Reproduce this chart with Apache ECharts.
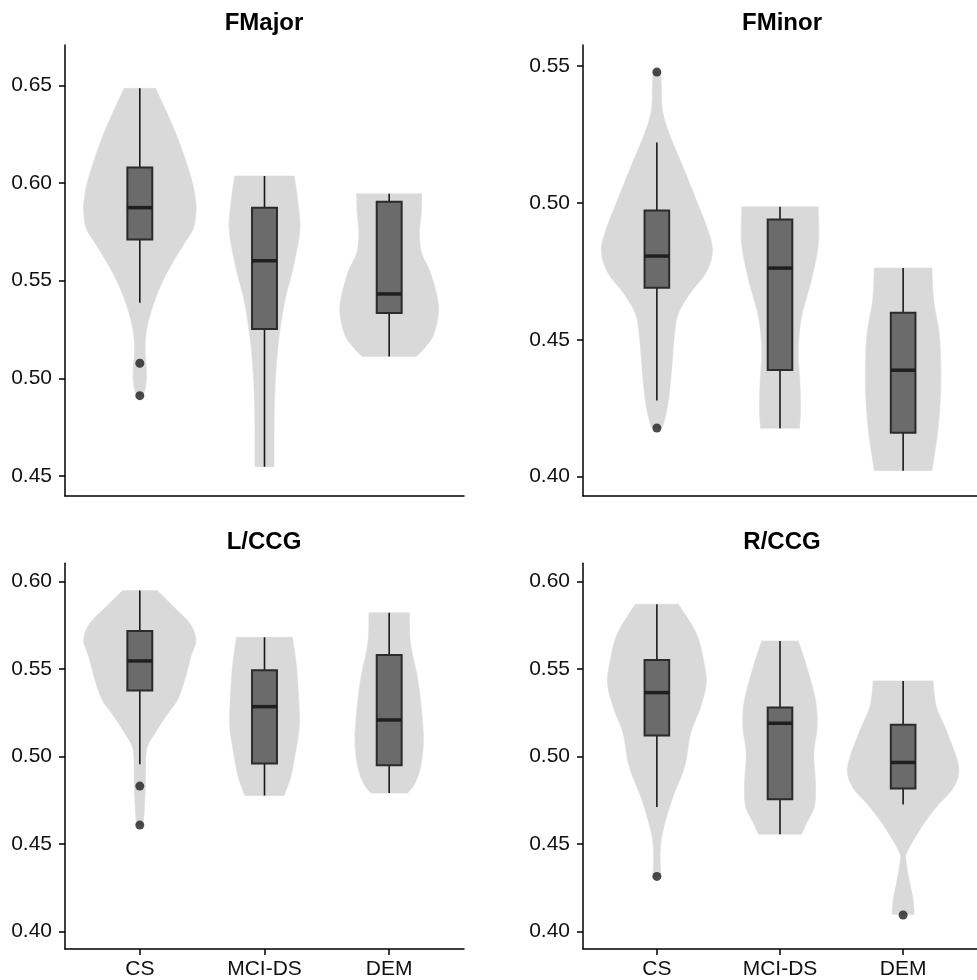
<!DOCTYPE html>
<html>
<head>
<meta charset="utf-8">
<script src="https://cdn.jsdelivr.net/npm/echarts@6/dist/echarts.min.js"></script>
<style>html,body{margin:0;padding:0;background:#fff}#c{width:977px;height:980px}</style>
</head>
<body>
<div id="c"></div>
<script>
// ---------------- DATA ----------------
const categories = ['CS', 'MCI-DS', 'DEM'];
const panelTitles = ['FMajor', 'FMinor', 'L/CCG', 'R/CCG'];

const fmajorTicks = [0.45, 0.50, 0.55, 0.60, 0.65];
const fminorTicks = [0.40, 0.45, 0.50, 0.55];
const lccgTicks = [0.40, 0.45, 0.50, 0.55, 0.60];
const rccgTicks = [0.40, 0.45, 0.50, 0.55, 0.60];

// box stats per group: [whiskerLow, Q1, median, Q3, whiskerHigh]
const fmajorBox = [[0.5387, 0.5711, 0.5874, 0.6079, 0.6485], [0.4547, 0.5252, 0.5602, 0.5874, 0.6036], [0.5111, 0.5334, 0.5432, 0.5904, 0.5945]];
const fminorBox = [[0.4278, 0.4690, 0.4806, 0.4972, 0.5221], [0.4177, 0.4390, 0.4762, 0.4940, 0.4986], [0.4022, 0.4161, 0.4389, 0.4599, 0.4762]];
const lccgBox = [[0.4957, 0.5378, 0.5547, 0.5718, 0.5949], [0.4778, 0.4961, 0.5286, 0.5494, 0.5682], [0.4792, 0.4951, 0.5210, 0.5581, 0.5823]];
const rccgBox = [[0.4712, 0.5121, 0.5366, 0.5553, 0.5871], [0.4557, 0.4757, 0.5191, 0.5281, 0.5661], [0.4727, 0.4818, 0.4967, 0.5182, 0.5433]];

// outliers: [groupIndex, value]
const fmajorOutliers = [[0, 0.5077], [0, 0.4911]];
const fminorOutliers = [[0, 0.5478], [0, 0.4178]];
const lccgOutliers = [[0, 0.4832], [0, 0.4609]];
const rccgOutliers = [[0, 0.4316], [2, 0.4095]];

// violin density profiles per group: [value, relative density], top -> bottom
const fmajorViolin = [
  [[0.6485, 0.28], [0.6255, 0.64], [0.604, 0.90], [0.592, 0.99], [0.585, 1.0], [0.5765, 0.95], [0.568, 0.77], [0.558, 0.56], [0.548, 0.38], [0.536, 0.22], [0.5245, 0.12], [0.5145, 0.095], [0.5025, 0.12], [0.496, 0.105], [0.4911, 0.06]],
  [[0.6036, 0.53], [0.5915, 0.59], [0.5763, 0.63], [0.558, 0.52], [0.5407, 0.37], [0.5236, 0.27], [0.5066, 0.21], [0.4895, 0.18], [0.4724, 0.17], [0.4547, 0.17]],
  [[0.5945, 0.58], [0.5845, 0.57], [0.5742, 0.54], [0.564, 0.58], [0.5537, 0.74], [0.5367, 0.88], [0.523, 0.80], [0.5162, 0.65], [0.5111, 0.48]]
];
const fminorViolin = [
  [[0.5479, 0.07], [0.5425, 0.08], [0.5339, 0.10], [0.5254, 0.22], [0.5132, 0.47], [0.5011, 0.71], [0.4889, 0.94], [0.4816, 1.0], [0.4743, 0.88], [0.467, 0.60], [0.4597, 0.39], [0.4524, 0.32], [0.4402, 0.27], [0.428, 0.21], [0.4208, 0.14], [0.4177, 0.09]],
  [[0.4986, 0.69], [0.4889, 0.70], [0.4816, 0.67], [0.4706, 0.55], [0.4585, 0.39], [0.4463, 0.33], [0.4341, 0.36], [0.4244, 0.37], [0.4177, 0.35]],
  [[0.4762, 0.52], [0.4645, 0.55], [0.4524, 0.65], [0.4402, 0.68], [0.428, 0.67], [0.4159, 0.62], [0.4022, 0.52]]
];
const lccgViolin = [
  [[0.5949, 0.31], [0.5857, 0.60], [0.5762, 0.89], [0.5667, 1.0], [0.5572, 0.91], [0.5439, 0.80], [0.5324, 0.67], [0.5229, 0.46], [0.5134, 0.27], [0.5039, 0.12], [0.4849, 0.10], [0.4696, 0.08], [0.4609, 0.06]],
  [[0.5682, 0.50], [0.5515, 0.57], [0.5324, 0.61], [0.5172, 0.62], [0.502, 0.55], [0.4887, 0.47], [0.4778, 0.35]],
  [[0.5823, 0.36], [0.5648, 0.38], [0.5458, 0.50], [0.5286, 0.57], [0.5096, 0.61], [0.4944, 0.56], [0.4849, 0.46], [0.4792, 0.33]]
];
const rccgViolin = [
  [[0.5871, 0.39], [0.5705, 0.71], [0.5553, 0.84], [0.542, 0.89], [0.5286, 0.79], [0.5134, 0.61], [0.4944, 0.50], [0.4753, 0.27], [0.4563, 0.10], [0.4449, 0.06], [0.4316, 0.07]],
  [[0.5661, 0.33], [0.5515, 0.48], [0.5324, 0.64], [0.5172, 0.67], [0.502, 0.61], [0.4849, 0.64], [0.4716, 0.62], [0.4621, 0.48], [0.4557, 0.39]],
  [[0.5433, 0.54], [0.5286, 0.60], [0.5134, 0.80], [0.4944, 1.0], [0.483, 0.92], [0.4716, 0.61], [0.4601, 0.34], [0.4468, 0.09], [0.4411, 0.05], [0.4278, 0.12], [0.4183, 0.18], [0.4099, 0.20]]
];

// ---------------- CHART ----------------
const FONT = '"Liberation Sans", Arial, Helvetica, sans-serif';
const panels = [
  { title: panelTitles[0], ticks: fmajorTicks, box: fmajorBox, out: fmajorOutliers, vio: fmajorViolin, yMin: 0.4397, yMax: 0.6707, rect: [65, 45, 399, 451], bottom: false, tx: 264, ty: 23 },
  { title: panelTitles[1], ticks: fminorTicks, box: fminorBox, out: fminorOutliers, vio: fminorViolin, yMin: 0.39295, yMax: 0.5577, rect: [583, 45, 399, 451], bottom: false, tx: 782, ty: 23 },
  { title: panelTitles[2], ticks: lccgTicks, box: lccgBox, out: lccgOutliers, vio: lccgViolin, yMin: 0.3901, yMax: 0.6105, rect: [65, 563.3, 399, 386], bottom: true, tx: 264, ty: 542 },
  { title: panelTitles[3], ticks: rccgTicks, box: rccgBox, out: rccgOutliers, vio: rccgViolin, yMin: 0.3901, yMax: 0.6105, rect: [583, 563.3, 399, 386], bottom: true, tx: 782, ty: 542 }
];
const MAXHW = 0.45;  // half of ggplot violin width 0.9
const BOXHW = 0.1;   // half of box width 0.2

function catmull(pts, steps) {
  const out = [];
  for (let i = 0; i < pts.length - 1; i++) {
    const p0 = pts[i - 1] || pts[i], p1 = pts[i], p2 = pts[i + 1], p3 = pts[i + 2] || pts[i + 1];
    const c1 = [p1[0] + (p2[0] - p0[0]) / 6, p1[1] + (p2[1] - p0[1]) / 6];
    const c2 = [p2[0] - (p3[0] - p1[0]) / 6, p2[1] - (p3[1] - p1[1]) / 6];
    for (let s = (i === 0 ? 0 : 1); s <= steps; s++) {
      const t = s / steps, u = 1 - t;
      out.push([
        u * u * u * p1[0] + 3 * u * u * t * c1[0] + 3 * u * t * t * c2[0] + t * t * t * p2[0],
        u * u * u * p1[1] + 3 * u * u * t * c1[1] + 3 * u * t * t * c2[1] + t * t * t * p2[1]
      ]);
    }
  }
  return out;
}

const grid = [], xAxis = [], yAxis = [], series = [], graphic = [];
panels.forEach((p, k) => {
  const [l, t, w, h] = p.rect;
  grid.push({ left: l, top: t, width: w, height: h, containLabel: false });
  const axisLine = { show: true, onZero: false, lineStyle: { color: '#000', width: 1.5 } };
  xAxis.push({
    type: 'value', gridIndex: k, min: 0.4, max: 3.6,
    axisLine: axisLine,
    axisTick: { show: p.bottom, length: 6, lineStyle: { color: '#000', width: 1.5 }, customValues: [1, 2, 3] },
    axisLabel: { show: p.bottom, customValues: [1, 2, 3], formatter: v => categories[Math.round(v) - 1], fontSize: 21, color: '#111', margin: 10, fontFamily: FONT },
    splitLine: { show: false }
  });
  yAxis.push({
    type: 'value', gridIndex: k, min: p.yMin, max: p.yMax,
    axisLine: axisLine,
    axisTick: { show: true, length: 6, lineStyle: { color: '#000', width: 1.5 }, customValues: p.ticks },
    axisLabel: { customValues: p.ticks, formatter: v => v.toFixed(2), fontSize: 21, color: '#111', margin: 13, fontFamily: FONT },
    splitLine: { show: false }
  });
  // violins
  series.push({
    type: 'custom', xAxisIndex: k, yAxisIndex: k, silent: true, clip: false,
    data: p.box.map((b, i) => [i + 1, b[2]]),
    renderItem: (params, api) => {
      const i = params.dataIndex, xc = i + 1, prof = p.vio[i];
      const right = prof.map(([v, d]) => api.coord([xc + d * MAXHW, v]));
      const left = prof.map(([v, d]) => api.coord([xc - d * MAXHW, v])).reverse();
      const pts = [].concat(catmull(right, 10), catmull(left, 10));
      return { type: 'polygon', shape: { points: pts }, style: { fill: '#d9d9d9', stroke: '#dcdcdc', lineWidth: 0.6 } };
    }
  });
  // boxes
  series.push({
    type: 'custom', xAxisIndex: k, yAxisIndex: k, silent: true, clip: false,
    data: p.box.map((b, i) => [i + 1, b[2]]),
    renderItem: (params, api) => {
      const i = params.dataIndex, xc = i + 1, b = p.box[i];
      const lo = api.coord([xc, b[0]]), hi = api.coord([xc, b[4]]);
      const q1 = api.coord([xc - BOXHW, b[1]]), q3 = api.coord([xc + BOXHW, b[3]]);
      const mL = api.coord([xc - BOXHW, b[2]]), mR = api.coord([xc + BOXHW, b[2]]);
      const wl = { stroke: '#1a1a1a', lineWidth: 1.6 };
      return {
        type: 'group', children: [
          { type: 'line', shape: { x1: hi[0], y1: hi[1], x2: hi[0], y2: q3[1] }, style: wl },
          { type: 'line', shape: { x1: lo[0], y1: q1[1], x2: lo[0], y2: lo[1] }, style: wl },
          { type: 'rect', shape: { x: q1[0], y: q3[1], width: q3[0] - q1[0], height: q1[1] - q3[1] }, style: { fill: '#6b6b6b', stroke: '#2b2b2b', lineWidth: 2 } },
          { type: 'line', shape: { x1: mL[0], y1: mL[1], x2: mR[0], y2: mR[1] }, style: { stroke: '#1f1f1f', lineWidth: 3.5 } }
        ]
      };
    }
  });
  // outliers
  series.push({
    type: 'scatter', xAxisIndex: k, yAxisIndex: k, silent: true,
    symbol: 'circle', symbolSize: 9,
    itemStyle: { color: '#1e1e1e' },
    data: p.out.map(([g, v]) => [g + 1, v])
  });
  graphic.push({
    type: 'text', x: p.tx, y: p.ty,
    style: { text: p.title, font: 'bold 24px ' + FONT, fill: '#000', textAlign: 'center', textVerticalAlign: 'middle' }
  });
});

const chart = echarts.init(document.getElementById('c'), null, { renderer: 'canvas' });
chart.setOption({
  animation: false,
  backgroundColor: '#fff',
  grid, xAxis, yAxis, series, graphic
});
</script>
</body>
</html>
